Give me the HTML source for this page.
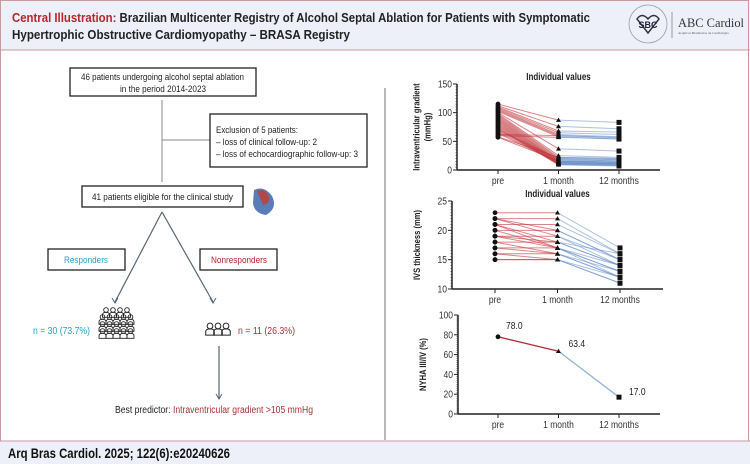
<!DOCTYPE html>
<html><head><meta charset="utf-8"><style>
body{margin:0;background:#fff;}
svg{display:block;font-family:"Liberation Sans",sans-serif;}
</style></head><body>
<svg id="s" width="750" height="464" viewBox="0 0 750 464" xmlns="http://www.w3.org/2000/svg">
<rect x="0" y="0" width="750" height="464" fill="#fff"/>
<rect x="0" y="0" width="750" height="50" fill="#eef0f9"/>
<line x1="0" y1="50" x2="750" y2="50" stroke="#c89a9a" stroke-width="1"/>
<rect x="0.5" y="0.5" width="748" height="463" fill="none" stroke="#c89a9a"/>
<text x="12" y="22" font-size="13" font-weight="bold" fill="#222" textLength="578" lengthAdjust="spacingAndGlyphs"><tspan fill="#b5262b">Central Illustration:</tspan> Brazilian Multicenter Registry of Alcohol Septal Ablation for Patients with Symptomatic</text>
<text x="12" y="39" font-size="13" font-weight="bold" fill="#222" textLength="338" lengthAdjust="spacingAndGlyphs">Hypertrophic Obstructive Cardiomyopathy – BRASA Registry</text>
<g>
<circle cx="648" cy="24" r="19" fill="none" stroke="#99a" stroke-width="0.8"/>
<path d="M637 19 q5-7 11 0 q6-7 11 0 l-11 14z" fill="none" stroke="#334" stroke-width="1.5"/>
<text x="648" y="28" font-size="9" font-weight="bold" text-anchor="middle" fill="#223">SBC</text>
<line x1="672" y1="12" x2="672" y2="38" stroke="#999"/>
<text x="678" y="27" font-size="13" font-family="Liberation Serif,serif" fill="#334" textLength="66" lengthAdjust="spacingAndGlyphs">ABC Cardiol</text>
<text x="678" y="34" font-size="3.5" font-family="Liberation Serif,serif" fill="#556">Arquivos Brasileiros de Cardiologia</text>
</g>
<line x1="385" y1="88" x2="385" y2="440" stroke="#888" stroke-width="1.2"/>
<rect x="0" y="441" width="750" height="23" fill="#eef0f9"/>
<line x1="0" y1="441" x2="750" y2="441" stroke="#c89a9a"/>
<text x="8" y="458" font-size="14" font-weight="bold" fill="#111" textLength="222" lengthAdjust="spacingAndGlyphs">Arq Bras Cardiol. 2025; 122(6):e20240626</text>

<g font-size="9.5" fill="#222">
<rect x="70" y="68" width="186" height="28" fill="#fff" stroke="#222" stroke-width="1.3"/>
<text x="81" y="80" textLength="163" lengthAdjust="spacingAndGlyphs">46 patients undergoing alcohol septal ablation</text>
<text x="120" y="92" textLength="86" lengthAdjust="spacingAndGlyphs">in the period 2014-2023</text>
<line x1="162" y1="100" x2="162" y2="182" stroke="#888"/>
<line x1="162" y1="140" x2="210" y2="140" stroke="#888"/>
<rect x="210" y="114" width="157" height="53" fill="#fff" stroke="#222" stroke-width="1.3"/>
<text x="216" y="133" textLength="82" lengthAdjust="spacingAndGlyphs">Exclusion of 5 patients:</text>
<text x="216" y="145" textLength="101" lengthAdjust="spacingAndGlyphs">– loss of clinical follow-up: 2</text>
<text x="216" y="157" textLength="142" lengthAdjust="spacingAndGlyphs">– loss of echocardiographic follow-up: 3</text>
<rect x="82" y="186" width="161" height="21" fill="#fff" stroke="#222" stroke-width="1.3"/>
<text x="92" y="200" textLength="141" lengthAdjust="spacingAndGlyphs">41 patients eligible for the clinical study</text>
<g><path d="M254 190 q10-5 18 6 q6 12-6 19 q-12-2-13-12z" fill="#5a7db8"/><path d="M257 191 q8-3 12 5 q2 7-6 9z" fill="#b04a4a"/></g>
<line x1="162" y1="212" x2="115" y2="302" stroke="#567" stroke-width="1.2"/>
<line x1="162" y1="212" x2="213" y2="302" stroke="#567" stroke-width="1.2"/>
<path d="M112 298 l3 5 l3-5" fill="none" stroke="#567"/>
<path d="M210 298 l3 5 l3-5" fill="none" stroke="#567"/>
<rect x="48" y="249" width="77" height="21" fill="#fff" stroke="#222" stroke-width="1.3"/>
<text x="86" y="263" text-anchor="middle" fill="#2a9ec8" textLength="44" lengthAdjust="spacingAndGlyphs">Responders</text>
<rect x="200" y="249" width="77" height="21" fill="#fff" stroke="#222" stroke-width="1.3"/>
<text x="239" y="263" text-anchor="middle" fill="#b5262b" textLength="56" lengthAdjust="spacingAndGlyphs">Nonresponders</text>
<g id="crowd" fill="none" stroke="#222" stroke-width="0.9"></g>
<g id="trio" fill="none" stroke="#222" stroke-width="1"></g>
<text x="33" y="334" fill="#2a9ec8" font-size="10" textLength="57" lengthAdjust="spacingAndGlyphs">n = 30 (73.7%)</text>
<text x="238" y="334" fill="#a83236" font-size="10" textLength="57" lengthAdjust="spacingAndGlyphs">n = 11 (26.3%)</text>
<line x1="219" y1="346" x2="219" y2="398" stroke="#567" stroke-width="1.2"/>
<path d="M216 394 l3 5 l3-5" fill="none" stroke="#567"/>
<text x="115" y="413" font-size="10" textLength="198" lengthAdjust="spacingAndGlyphs">Best predictor: <tspan fill="#a83236">Intraventricular gradient &gt;105 mmHg</tspan></text>
</g>
<g id="charts"></g>
</svg>
<script>
// Chart 1 data: intraventricular gradient (mmHg)
const gradPre = [115,112,110,108,106,104,102,100,98,96,94,92,90,88,86,84,82,80,78,76,74,72,70,68,66,64,62,60,58,57];
const grad1m  = [87,76,68,65,62,60,58,37,25,22,20,18,16,15,14,13,12,12,11,10,10,9,20,18,15,13,60,57,22,16];
const grad12m = [83,72,66,62,58,56,54,33,22,20,18,16,14,13,12,11,10,10,9,8,8,7,18,16,13,11,57,54,20,14];
const gradTicks = [0,50,100,150];
// Chart 2 data: IVS thickness (mm)
const ivsPre = [23,22,22,21,21,20,20,19,19,18,18,17,17,16,16,15,15,22,21,19];
const ivs1m  = [23,22,20,21,18,20,17,19,17,18,16,17,16,16,15,15,15,19,17,18];
const ivs12m = [17,16,15,16,14,15,13,14,12,14,13,13,12,12,11,12,11,15,14,16];
const ivsTicks = [10,15,20,25];
// Chart 3 data: NYHA III/IV (%)
const nyhaVals = [78.0,63.4,17.0];
const nyhaTicks = [0,20,40,60,80,100];
const timeLabels = ['pre','1 month','12 months'];

const NS='http://www.w3.org/2000/svg';
const root=document.getElementById('charts');
function mk(tag,attrs,parent){const e=document.createElementNS(NS,tag);for(const k in attrs)e.setAttribute(k,attrs[k]);(parent||root).appendChild(e);return e;}
function txt(x,y,s,attrs,parent){const e=mk('text',Object.assign({x:x,y:y},attrs),parent);e.textContent=s;return e;}
function narrow(e,f){const w=e.getComputedTextLength();e.setAttribute('textLength',w*f);e.setAttribute('lengthAdjust','spacingAndGlyphs');}

function chart(cfg){
  const g=mk('g',{});
  
  
  const xs=i=>cfg.x0+i*cfg.dx;
  const ys=v=>cfg.yBot-(v-cfg.vmin)/(cfg.vmax-cfg.vmin)*(cfg.yBot-cfg.yTop);
  const ya=mk('line',{x1:cfg.ax,y1:cfg.yTop,x2:cfg.ax,y2:cfg.yBot,stroke:'#222','stroke-width':1.5},g);
  
  const xa=mk('line',{x1:cfg.ax,y1:cfg.yBot,x2:cfg.axEnd,y2:cfg.yBot,stroke:'#222','stroke-width':1.5},g);
  
  for(let v=cfg.vmin;v<=cfg.vmax;v+=cfg.minor){mk('line',{x1:cfg.ax-1.5,y1:ys(v),x2:cfg.ax,y2:ys(v),stroke:'#222','stroke-width':0.6},g);}
  cfg.ticks.forEach(t=>{mk('line',{x1:cfg.ax-4,y1:ys(t),x2:cfg.ax,y2:ys(t),stroke:'#222','stroke-width':1},g);
    const l=txt(cfg.ax-5,ys(t)+3.5,String(t),{'font-size':10,'text-anchor':'end',fill:'#333'},g);
    narrow(l,0.85);
    });
  timeLabels.forEach((s,i)=>{mk('line',{x1:xs(i),y1:cfg.yBot,x2:xs(i),y2:cfg.yBot+4,stroke:'#222'},g);
    const l=txt(xs(i),cfg.yBot+14,s,{'font-size':10,'text-anchor':'middle',fill:'#333'},g);
    narrow(l,0.85);
    });
  if(cfg.title){const t=txt((cfg.ax+cfg.axEnd)/2,cfg.yTop-4,cfg.title,{'font-size':10,'font-weight':'bold','text-anchor':'middle',fill:'#222'},g);
    narrow(t,0.8);
    }
  const cy=(cfg.yTop+cfg.yBot)/2;
  cfg.ylab.forEach((s,k)=>{const x=cfg.ax-32+k*11-(cfg.ylab.length-1)*5.5;
    const t=txt(x,cy,s,{'font-size':9.5,'font-weight':'bold','text-anchor':'middle',fill:'#222',transform:`rotate(-90 ${x} ${cy})`},g);
    narrow(t,0.8);
    });
  return {g,xs,ys};
}
function marker(g,kind,x,y){
  let e;
  if(kind==0)e=mk('circle',{cx:x,cy:y,r:2.4,fill:'#111'},g);
  else if(kind==1)e=mk('path',{d:`M${x} ${y-2.5}L${x+2.5} ${y+1.8}L${x-2.5} ${y+1.8}Z`,fill:'#111'},g);
  else e=mk('rect',{x:x-2.5,y:y-2.5,width:5,height:5,fill:'#111'},g);
  
}
function paired(c,pre,m1,m12){
  pre.forEach((v,i)=>{const a=mk('line',{x1:c.xs(0),y1:c.ys(v),x2:c.xs(1),y2:c.ys(m1[i]),stroke:'#c0343a','stroke-opacity':0.6,'stroke-width':1},c.g);
    
    const b=mk('line',{x1:c.xs(1),y1:c.ys(m1[i]),x2:c.xs(2),y2:c.ys(m12[i]),stroke:'#5b86c4','stroke-opacity':0.5,'stroke-width':1},c.g);
    });
  pre.forEach((v,i)=>{marker(c.g,0,c.xs(0),c.ys(v));marker(c.g,1,c.xs(1),c.ys(m1[i]));marker(c.g,2,c.xs(2),c.ys(m12[i]));});
}
const c1=chart({name:'gradient-chart',ax:457,axEnd:660,x0:498,dx:60.5,yTop:84,yBot:170,vmin:0,vmax:150,minor:5,ticks:gradTicks,title:'Individual values',ylab:['Intraventricular gradient','(mmHg)']});
paired(c1,gradPre,grad1m,grad12m);
const c2=chart({name:'ivs-thickness-chart',ax:452,axEnd:663,x0:495,dx:62.5,yTop:201,yBot:289,vmin:10,vmax:25,minor:0.5,ticks:ivsTicks,title:'Individual values',ylab:['IVS thickness (mm)']});
paired(c2,ivsPre,ivs1m,ivs12m);
const c3=chart({name:'nyha-chart',ax:458,axEnd:660,x0:498,dx:60.5,yTop:315,yBot:414,vmin:0,vmax:100,minor:2,ticks:nyhaTicks,title:null,ylab:['NYHA III/IV (%)']});
const seg1=mk('line',{x1:c3.xs(0),y1:c3.ys(nyhaVals[0]),x2:c3.xs(1),y2:c3.ys(nyhaVals[1]),stroke:'#b03038','stroke-width':1.3},c3.g);

const seg2=mk('line',{x1:c3.xs(1),y1:c3.ys(nyhaVals[1]),x2:c3.xs(2),y2:c3.ys(nyhaVals[2]),stroke:'#8fb4d8','stroke-width':1.3},c3.g);

const offs=[[8,-8],[10,-4],[10,-2]];
nyhaVals.forEach((v,i)=>{marker(c3.g,i,c3.xs(i),c3.ys(v));
  const l=txt(c3.xs(i)+offs[i][0],c3.ys(v)+offs[i][1],v.toFixed(1),{'font-size':10,fill:'#222'},c3.g);
  narrow(l,0.85);
  });

function person(p,x,y,s){mk('circle',{cx:x,cy:y,r:2.2*s},p);mk('path',{d:`M${x-3.3*s} ${y+7*s}v${-2.5*s}q0 ${-2.3*s} ${3.3*s} ${-2.3*s}q${3.3*s} 0 ${3.3*s} ${2.3*s}v${2.5*s}z`},p);}
const crowd=document.getElementById('crowd');
[[4,0],[5,-3.5],[5,-3.5],[5,-3.5]].forEach((r,ri)=>{for(let k=0;k<r[0];k++)person(crowd,106+r[1]+k*7+(ri==0?0:0),310+ri*7,1.05);});
const trio=document.getElementById('trio');
[210,218,226].forEach(x=>person(trio,x,326,1.3));
</script>
</body></html>
